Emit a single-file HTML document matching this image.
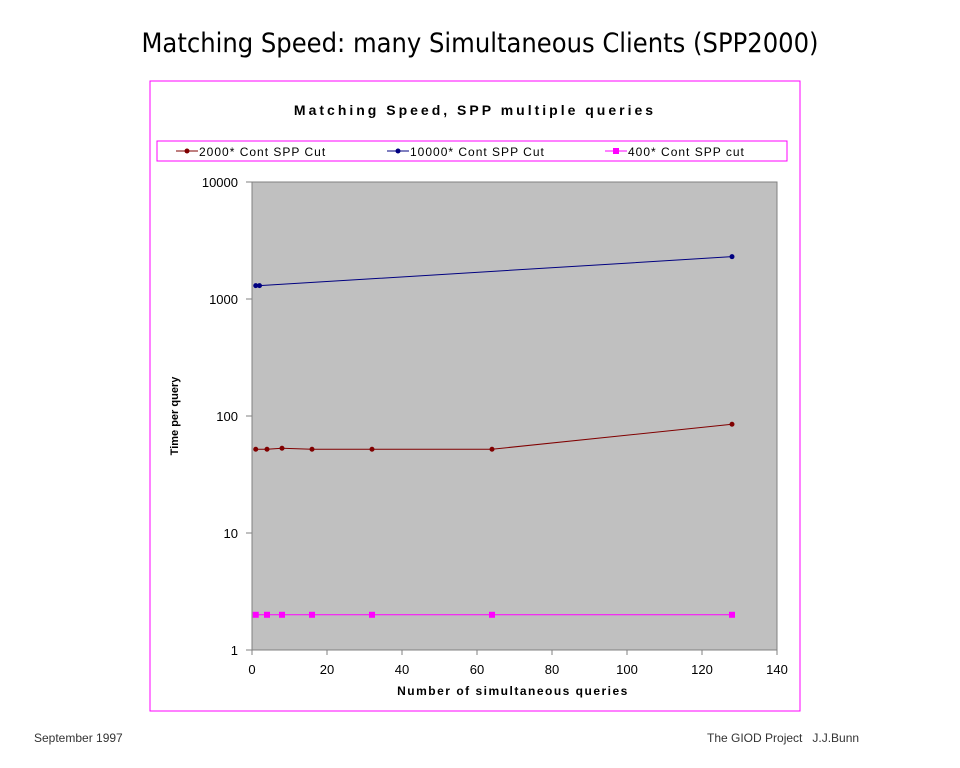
<!DOCTYPE html>
<html><head><meta charset="utf-8"><style>
body{margin:0;width:960px;height:768px;background:#fff;position:relative;overflow:hidden;font-family:"Liberation Sans",sans-serif}
.t{position:absolute;white-space:nowrap}
</style></head><body>
<div class="t" style="left:0;width:960px;text-align:center;top:28px;font-family:'DejaVu Sans Condensed','DejaVu Sans',sans-serif;font-size:27px;color:#000">Matching Speed: many Simultaneous Clients (SPP2000)</div>
<div class="t" style="left:34px;top:731px;font-size:12px;color:#333">September 1997</div>
<div class="t" style="left:707px;top:731px;font-size:12px;color:#333">The GIOD Project &nbsp;&nbsp;J.J.Bunn</div>
<svg id="chart" width="960" height="768" style="position:absolute;left:0;top:0">
<rect x="150" y="81" width="650" height="630" fill="none" stroke="#ff00ff" stroke-width="1"/>
<text x="475" y="115" text-anchor="middle" font-family="Liberation Sans" font-weight="bold" font-size="14" letter-spacing="3">Matching Speed, SPP multiple queries</text>
<rect x="157" y="141" width="630" height="20" fill="#fff" stroke="#ff00ff"/>
<g id="legend" font-family="Liberation Sans" font-size="12" letter-spacing="1"></g>
<rect x="252" y="182" width="525" height="468" fill="#c0c0c0" stroke="#808080"/>
<g id="axes"></g>
<g id="series"></g>
<text x="513" y="695" text-anchor="middle" font-family="Liberation Sans" font-weight="bold" font-size="12" letter-spacing="1.5">Number of simultaneous queries</text>
<text transform="translate(178,416) rotate(-90)" text-anchor="middle" font-family="Liberation Sans" font-weight="bold" font-size="11">Time per query</text>
</svg>
<script>
const xTicks=[0,20,40,60,80,100,120,140];
const yTicks=[1,10,100,1000,10000];
const xRed=[1,4,8,16,32,64,128];
const yRed=[52,52,53,52,52,52,85];
const xBlue=[1,2,128];
const yBlue=[1300,1300,2300];
const xPink=[1,4,8,16,32,64,128];
const yPink=[2,2,2,2,2,2,2];
const seriesNames=["2000* Cont SPP Cut","10000* Cont SPP Cut","400* Cont SPP cut"];
const NS="http://www.w3.org/2000/svg";
const X=v=>252+v*525/140;
const Y=v=>650-Math.log10(v)*117;
function mk(t,a,p){const e=document.createElementNS(NS,t);for(const k in a)e.setAttribute(k,a[k]);p.appendChild(e);return e;}
const ax=document.getElementById('axes');
xTicks.forEach(v=>{
 const l=mk('line',{x1:X(v),x2:X(v),y1:650,y2:655,stroke:'#808080'},ax);
 
 
 const t=mk('text',{x:X(v),y:674,'text-anchor':'middle','font-size':13,'font-family':'Liberation Sans'},ax);
 t.textContent=v;
 
 
});
yTicks.forEach(v=>{
 const l=mk('line',{x1:246,x2:252,y1:Y(v),y2:Y(v),stroke:'#808080'},ax);
 
 
 const t=mk('text',{x:238,y:Y(v)+5,'text-anchor':'end','font-size':13,'font-family':'Liberation Sans'},ax);
 t.textContent=v;
 
 
});
const sg=document.getElementById('series');
const defs=[[xRed,yRed,'#800000','circle','series-2000'],[xBlue,yBlue,'#000080','circle','series-10000'],[xPink,yPink,'#ff00ff','square','series-400']];
defs.forEach(([xs,ys,c,m,n])=>{
 const g=mk('g',{},sg);
 
 
 const pts=xs.map((x,i)=>X(x)+','+Y(ys[i])).join(' ');
 mk('polyline',{points:pts,fill:'none',stroke:c,'stroke-width':1},g);
 xs.forEach((x,i)=>{
  let e;
  if(m==='circle')e=mk('circle',{cx:X(x),cy:Y(ys[i]),r:2.5,fill:c},g);
  else e=mk('rect',{x:X(x)-3,y:Y(ys[i])-3,width:6,height:6,fill:c},g);
  
  
 });
});
const lg=document.getElementById('legend');
const lx=[176,387,605],cols=['#800000','#000080','#ff00ff'];
seriesNames.forEach((s,i)=>{
 const g=mk('g',{},lg);
 
 
 mk('line',{x1:lx[i],x2:lx[i]+22,y1:151,y2:151,stroke:cols[i]},g);
 if(i<2)mk('circle',{cx:lx[i]+11,cy:151,r:2.5,fill:cols[i]},g);
 else mk('rect',{x:lx[i]+8,y:148,width:6,height:6,fill:cols[i]},g);
 const t=mk('text',{x:lx[i]+23,y:156},g);
 t.textContent=s;
});
</script>
</body></html>
